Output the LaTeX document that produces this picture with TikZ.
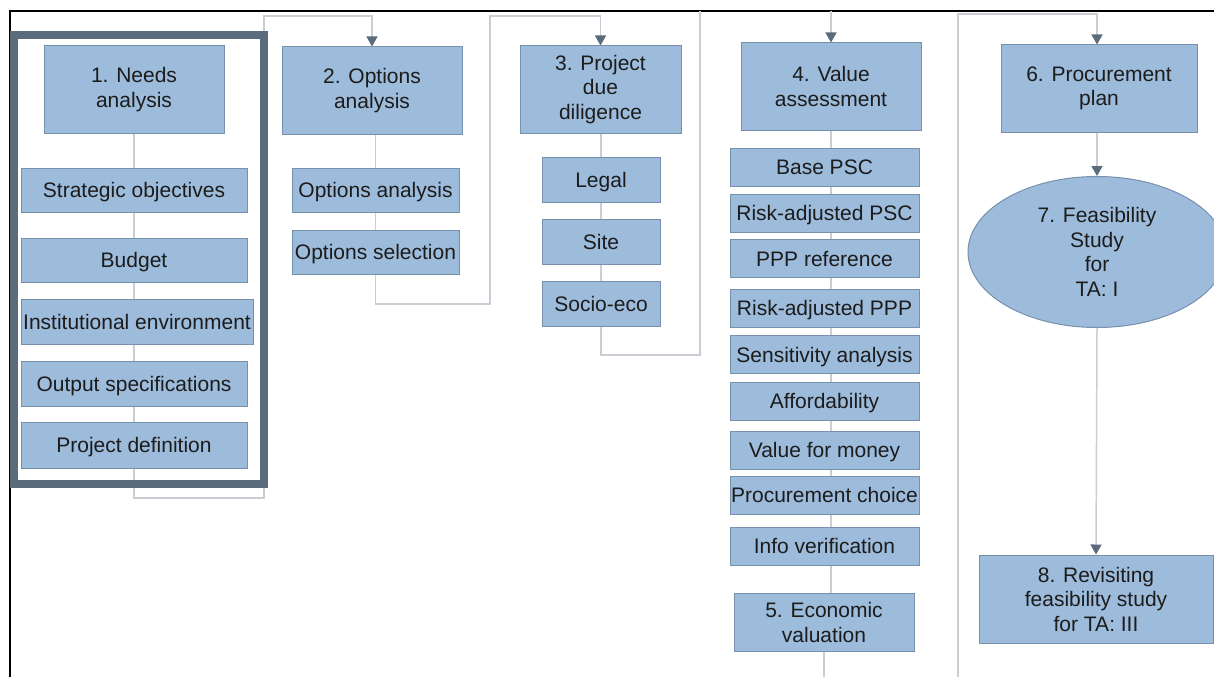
\documentclass[tikz,border=0pt]{standalone}
\usepackage{fontspec}
\setmainfont{Liberation Sans}
\usetikzlibrary{arrows.meta,positioning,shapes.geometric,backgrounds}
\definecolor{boxfill}{HTML}{9DBBDB}
\definecolor{boxline}{HTML}{7790AC}
\definecolor{linkgray}{HTML}{C9CED6}
\definecolor{framegray}{HTML}{5A6B7C}
\definecolor{inkgray}{HTML}{1C1C1C}

\begin{document}
\begin{tikzpicture}[x=1pt, y=-1pt, >={Triangle[length=10pt,width=11pt,color=framegray]},
  font=\fontsize{21}{24.5}\selectfont, text=inkgray,
  phase/.style={draw=boxline, fill=boxfill, line width=1pt, inner sep=0pt, align=center},
  task/.style={phase, minimum height=44pt, text height=15pt, text depth=0pt},
  link/.style={draw=linkgray, line width=1.5pt}]
\useasboundingbox (0,0) rectangle (1214,677);

% column 1
\node[phase, minimum width=180, minimum height=88](needs) at (134,89.5) {1. Needs\\analysis};
\node[task, minimum width=226](strat) at (134,190) {Strategic objectives};
\node[task, minimum width=226](budget) at (134,260) {Budget};
\node[task, minimum width=232, minimum height=45](inst) at (137,321.5) {Institutional environment};
\node[task, minimum width=226, minimum height=45](outspec) at (134,383.5) {Output specifications};
\node[task, minimum width=226, minimum height=46](projdef) at (134,445) {Project definition};

% column 2
\node[phase, minimum width=180, minimum height=87](opts) at (372,90.5) {2. Options\\analysis};
\node[task, minimum width=167](optana) at (375.5,190) {Options analysis};
\node[task, minimum width=167](optsel) at (375.5,252) {Options selection};

% column 3
\node[phase, minimum width=161, minimum height=87](dd) at (600.5,89.5) {3. Project\\due\\diligence};
\node[task, minimum width=118, minimum height=45](legal) at (601,179.5) {Legal};
\node[task, minimum width=118, minimum height=45](site) at (601,241.5) {Site};
\node[task, minimum width=118, minimum height=45](socio) at (601,303.5) {Socio-eco};

% column 4
\node[phase, minimum width=180, minimum height=87](value) at (831,86.5) {4. Value\\assessment};
\begin{scope}[every node/.style={task, minimum width=189, minimum height=38}]
\node(basepsc) at (824.5,167) {Base PSC};
\node(radjpsc) at (824.5,213) {Risk-adjusted PSC};
\node(pppref) at (824.5,258.5) {PPP reference};
\node(radjppp) at (824.5,308) {Risk-adjusted PPP};
\node(sens) at (824.5,354.5) {Sensitivity analysis};
\node(afford) at (824.5,401) {Affordability};
\node(vfm) at (824.5,450) {Value for money};
\node(procch) at (824.5,495) {Procurement choice};
\node(infover) at (824.5,546) {Info verification};
\end{scope}
\node[phase, minimum width=180, minimum height=58](econ) at (824,622.5) {5. Economic\\valuation};

% column 5
\node[phase, minimum width=196, minimum height=87](plan) at (1099,88.5) {6. Procurement\\plan};
\node[phase, ellipse, minimum width=258, minimum height=151](feas) at (1097,252) {7. Feasibility\\Study\\for\\TA: I};
\node[phase, minimum width=234, minimum height=88](revisit) at (1096,599) {8. Revisiting\\feasibility study\\for TA: III};

\coordinate (in4) at (831,11);
\coordinate (out5) at (824,677);
\coordinate (back) at (958,677);

\begin{scope}[on background layer]
\draw[line width=2.5pt] (10,677) -- (10,11) -- (1214,11);
\draw[link, ->] (needs.south) |- (264,498) -- (264,16) -| (opts.north);
\draw[link, ->] (opts.south -| optsel) -- (optsel.south) |- (490,304) -- (490,16) -| (dd.north);
\draw[link] (dd.south -| socio) -- (socio.south) |- (700,355) -- (700,11);
\draw[link, ->] (in4) -- (value.north);
\draw[link] (value.south) -- (value.south |- econ.north);
\draw[link] (econ.south) -- (out5);
\draw[link, ->] (back) -- (958,14) -| (feas.north |- plan.north);
\draw[link, ->] (plan.south -| feas.north) -- (feas.north);
\draw[link, ->] (feas.south) -- (revisit.north);
\end{scope}

% box round the first phase
\draw[framegray, line width=8pt] (14,35.5) rectangle (263.5,484);
\end{tikzpicture}
\end{document}
